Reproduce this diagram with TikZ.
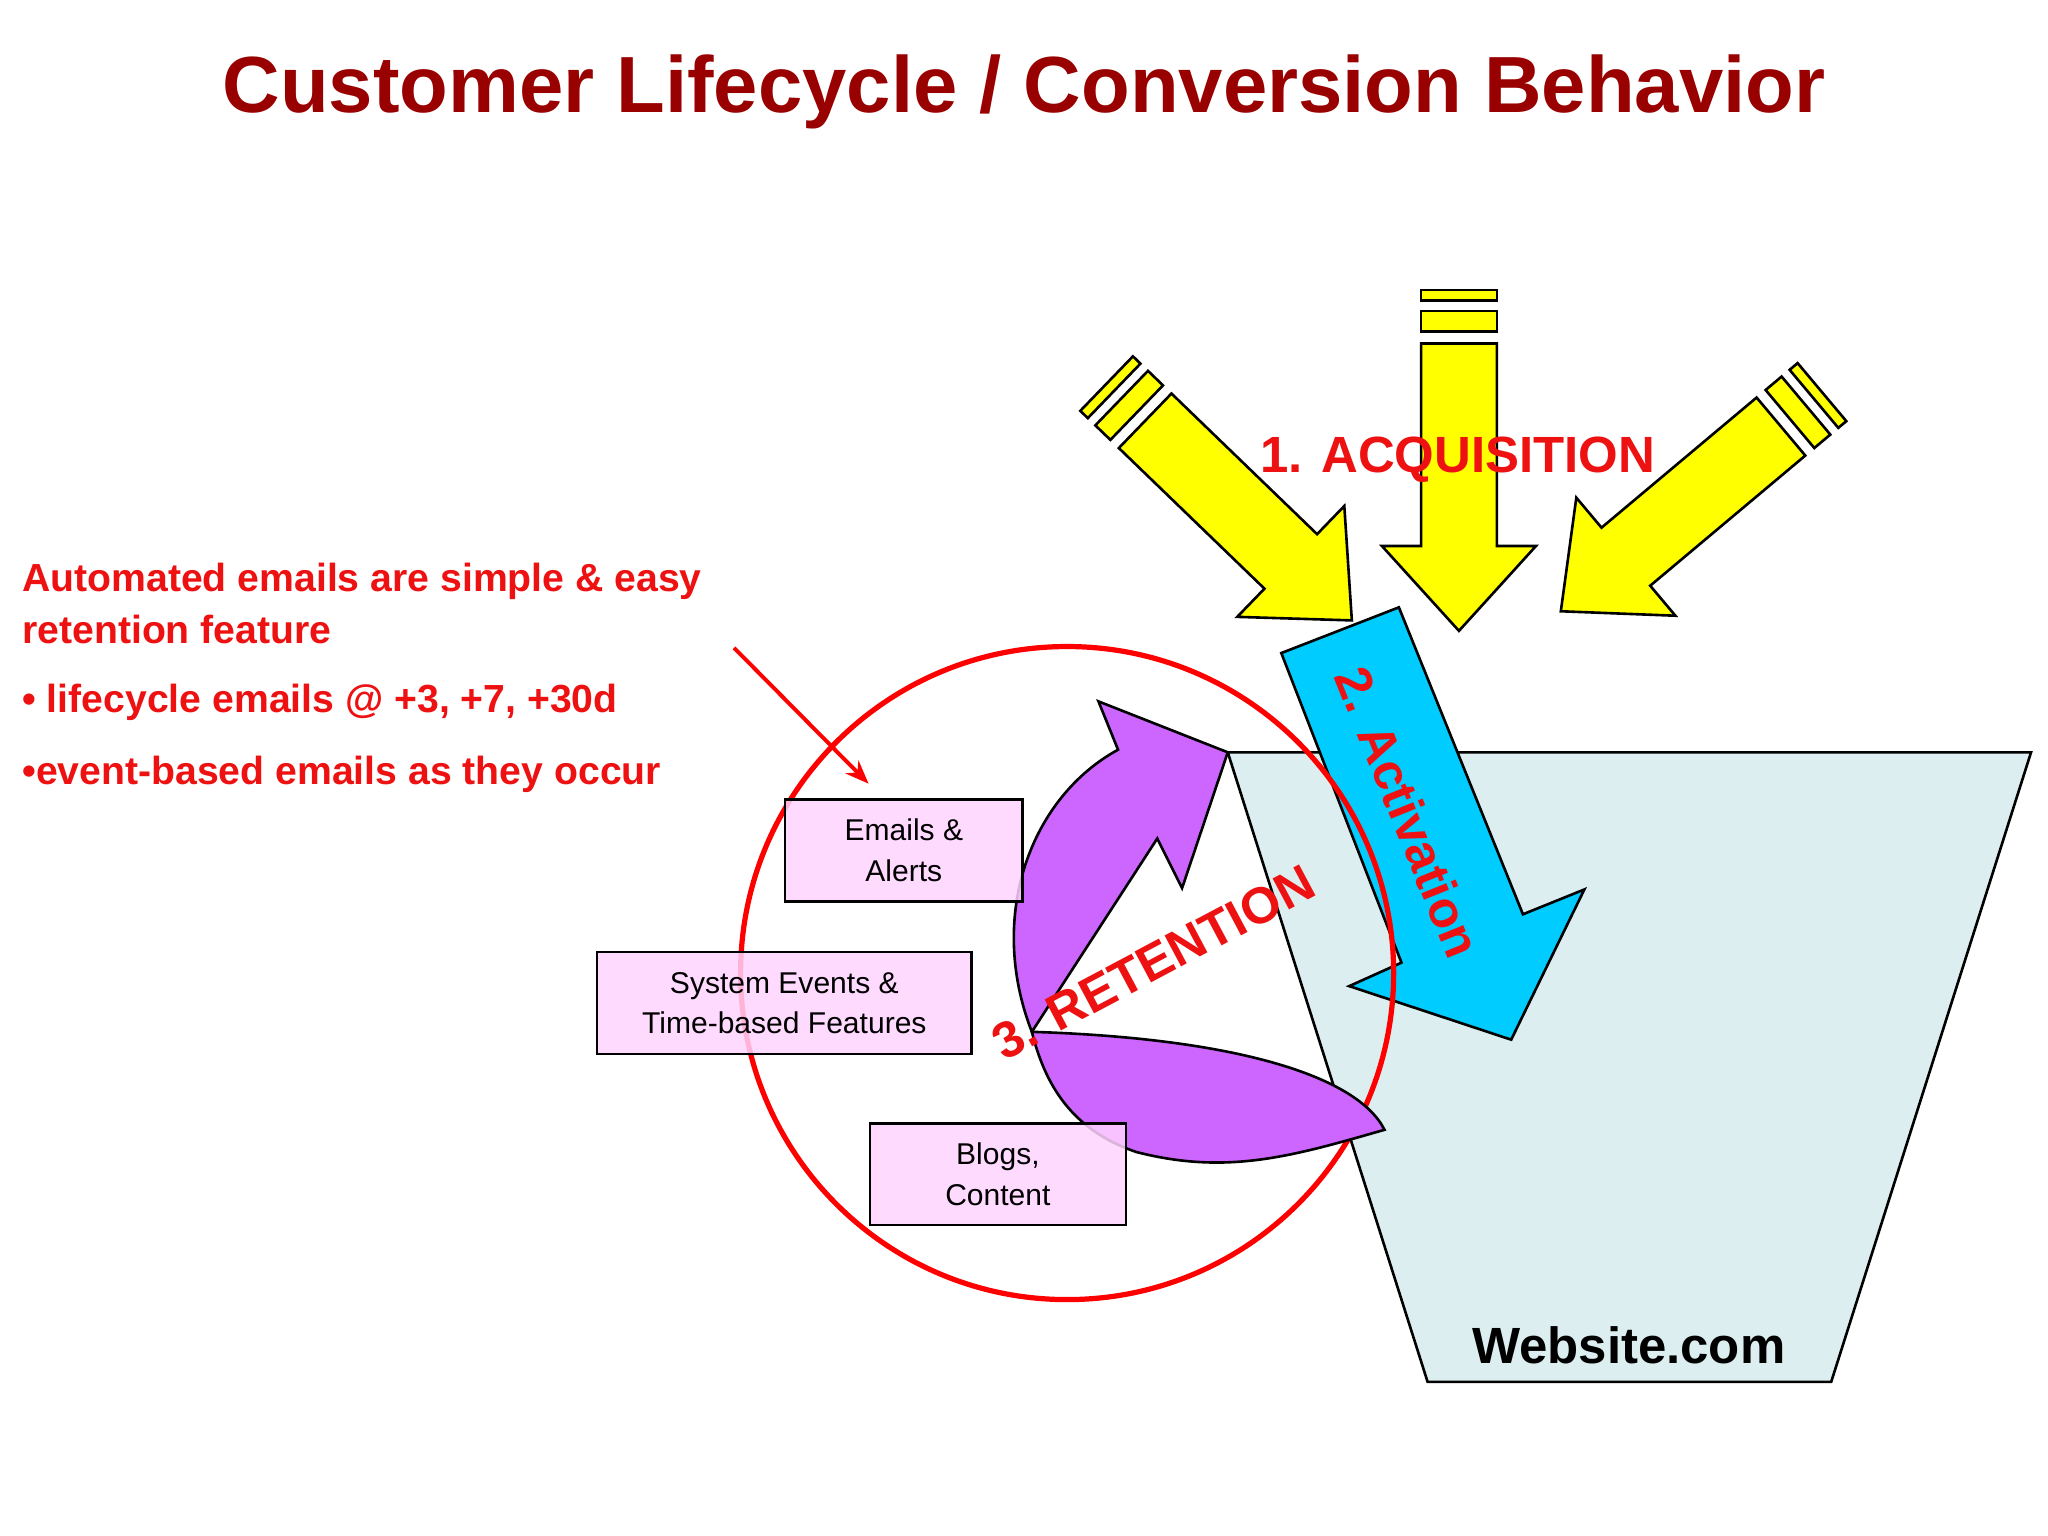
\documentclass[tikz,border=0pt]{standalone}
\usepackage{fontspec}
\setmainfont{Liberation Sans}
\usetikzlibrary{arrows.meta}
\definecolor{tred}{HTML}{990000}
\definecolor{lred}{HTML}{EE1111}
\definecolor{funnel}{HTML}{DDEEF0}
\definecolor{yel}{HTML}{FFFF00}
\definecolor{cyan2}{HTML}{00CCFF}
\definecolor{purp}{HTML}{CC66FF}
\definecolor{boxc}{HTML}{FFD3FF}
\tikzset{
  ol/.style={draw=black,line width=1pt,line join=miter},
  box/.style={ol,fill=boxc,fill opacity=0.85,text opacity=1,align=center,font=\fontsize{11.5}{15.5}\selectfont,inner sep=0pt},
  lbl/.style={text=lred,font=\bfseries\fontsize{19.5}{22}\selectfont},
  note/.style={text=lred,font=\bfseries\fontsize{15}{18}\selectfont,anchor=west},
  yarrow/.pic={
    \path[ol,fill=yel] (0,0)--(-59,-65)--(-29,-65)--(-29,-220)--(29,-220)--(29,-65)--(59,-65)--cycle;
    \path[ol,fill=yel] (-29,-229) rectangle (29,-245);
    \path[ol,fill=yel] (-29,-253) rectangle (29,-261);
  }
}
\begin{document}
\begin{tikzpicture}[x=0.5pt,y=-0.5pt]
\useasboundingbox (0,0) rectangle (1568,1176);
\node[text=tred,font=\bfseries\fontsize{30.5}{34}\selectfont] (title) at (784,70) {Customer Lifecycle / Conversion Behavior};
% funnel
\path[ol,fill=funnel] (940,576)--(1555,576)--(1402,1058)--(1093,1058)--cycle;
\node[font=\bfseries\fontsize{19.5}{22}\selectfont] (web) at (1247,1030) {Website.com};
% yellow arrows
\pic at (1117,483) {yarrow};
\pic[rotate=46] at (1035,475) {yarrow};
\pic[rotate=-50] at (1195,468) {yarrow};
% blue arrow
\path[ol,fill=cyan2] (981,500)--(1071,465)--(1166,700)--(1213,681)--(1157,796)--(1033,755)--(1073,737)--cycle;
% circle
\node[draw=red,line width=2pt,circle,minimum size=250pt,inner sep=0pt] (circ) at (817,745) {};
% purple
\path[ol,fill=purp] (790,790)--(886,642)--(905,680)--(940,576)--(841,537)--(856,574)
  .. controls (790,610) and (755,700) .. (790,790)--cycle;
\path[ol,fill=purp] (790,790) .. controls (950,795) and (1040,825) .. (1060,865)
  .. controls (990,885) and (940,900) .. (870,882) .. controls (820,865) and (800,830) .. (790,790)--cycle;
% boxes
\node[box,minimum width=91pt,minimum height=39pt] (em) at (692,651) {Emails \&\\Alerts};
\node[box,minimum width=143.5pt,minimum height=39pt] (sys) at (600.5,768) {System Events \&\\Time-based Features};
\node[box,minimum width=98pt,minimum height=39pt] (blog) at (764,899) {Blogs,\\Content};
% labels
\node[lbl] (acq) at (1116,352) {1. ACQUISITION};
\node[lbl,rotate=-68] (act) at (1078,622) {2. Activation};
\node[lbl,rotate=28] (ret) at (883,737) {3. RETENTION};
% note
\node[note] (n1) at (10,445) {Automated emails are simple \& easy};
\node[note] (n2) at (10,482) {retention feature};
\node[note] (n3) at (10,538) {• lifecycle emails @ +3, +7, +30d};
\node[note] (n4) at (10,593) {•event-based emails as they occur};
\coordinate (ns) at (562,496);
\coordinate (ne) at (665,600);
\draw[red,line width=1.5pt,-{Stealth[length=9pt,width=7pt]}] (ns) -- (ne);
\end{tikzpicture}
\end{document}
